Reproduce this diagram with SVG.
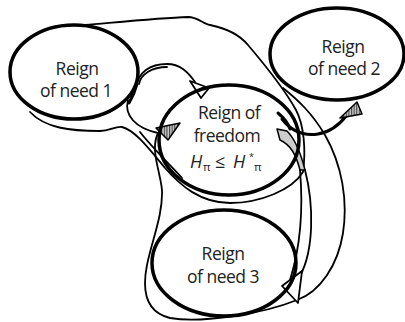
<svg xmlns="http://www.w3.org/2000/svg" width="405" height="322" viewBox="0 0 405 322">
<defs>
<style>
.node{fill:none;stroke:#000;stroke-width:3.5}
.lbl{font-family:"Open Sans","Noto Sans",sans-serif;font-size:17.5px;fill:#222;text-anchor:middle;letter-spacing:-0.5px}
.ln{fill:none;stroke:#000;stroke-width:1.8;stroke-linecap:round;stroke-linejoin:round}
.thick{fill:none;stroke:#000;stroke-width:3;stroke-linecap:round}
.hollow{fill:#fff;stroke:#000;stroke-width:1.8;stroke-linejoin:round}
.hatch{fill:url(#hp);stroke:#000;stroke-width:1.5;stroke-linejoin:round}
</style>
<pattern id="hp" width="2.6" height="4" patternUnits="userSpaceOnUse">
<rect width="2.6" height="4" fill="#ccc"/>
<line x1="0.6" y1="0" x2="0.6" y2="4" stroke="#333" stroke-width="1"/>
</pattern>
</defs>
<g id="connectors">
<path class="ln" d="M30,112 C45,128 70,131 100,131 C110,131 115,126 122,127 C135,130 150,150 165,168 C180,185 200,203 230,203 C260,203 292,190 303,172 C306,150 304,125 296,110 C285,90 265,65 248,45 C238,33 225,28 210,25 C203,24 198,17 188,17 C160,18 120,22 85,25"/>
<path class="ln" d="M158,133 C150,150 160,170 162,190 C163,215 152,240 147,265 C142,290 145,312 170,318 C200,323 260,315 297,300 C320,292 338,265 343,233 C348,200 342,165 325,135 C312,113 298,100 283,88"/>
<path class="ln" d="M136,88 C138,72 150,64 167,64 C180,64 188,72 195,82"/>
<path class="ln" d="M139,84 C141,74 152,67 167,67"/>
<path class="thick" d="M137,84 C135,92 132,98 129,103" stroke-width="5"/>
<path class="ln" d="M128,100 C124,115 135,128 158,133"/>
<path class="ln" d="M140,132 C150,145 170,165 182,178"/>
<path class="thick" d="M282,119 C292,132 305,136 318,134 C331,132 340,124 347,115"/>
<path class="thick" d="M278,113 C284,118 288,123 290,129" stroke-width="4.5"/>
<path d="M277,129 L287,131 C294,138 300,150 305,170 L300,170 C296,155 291,145 280,140 Z" fill="#ccc" stroke="#000" stroke-width="1.5" stroke-linejoin="round"/>
<path class="ln" d="M300,170 C303,205 301,245 290,280"/>
<path class="ln" d="M305,170 C314,205 314,250 300,276"/>
<polygon class="hollow" points="282,286 302,271 298,303"/>
<polygon class="hollow" points="190,81 209,88 201,98"/>
<polygon class="hatch" points="156,128 180,123 168,140"/>
<polygon class="hatch" points="340,118 357,102 362,114"/>
</g>
<g id="need1">
<ellipse class="node" cx="74" cy="72" rx="64" ry="47"/>
<text class="lbl" x="77" y="75">Reign</text>
<text class="lbl" x="76" y="97">of need 1</text>
</g>
<g id="need2">
<ellipse class="node" cx="337" cy="54" rx="67" ry="46"/>
<text class="lbl" x="343" y="53">Reign</text>
<text class="lbl" x="344" y="75">of need 2</text>
</g>
<g id="freedom">
<ellipse class="node" cx="229" cy="140" rx="70" ry="55"/>
<text class="lbl" x="229" y="119">Reign of</text>
<text class="lbl" x="227" y="142">freedom</text>
<text font-family="'Open Sans','Noto Sans',sans-serif" font-size="18" fill="#222"><tspan x="190" y="168" font-style="italic">H</tspan><tspan x="203" y="171" font-size="11.5">π</tspan><tspan x="215" y="168">≤</tspan><tspan x="233" y="168" font-style="italic">H</tspan><tspan x="249" y="160" font-size="9">*</tspan><tspan x="254" y="171" font-size="11.5">π</tspan></text>
</g>
<g id="need3">
<ellipse class="node" cx="224" cy="263" rx="72" ry="53"/>
<text class="lbl" x="223" y="260">Reign</text>
<text class="lbl" x="223" y="283">of need 3</text>
</g>
</svg>
